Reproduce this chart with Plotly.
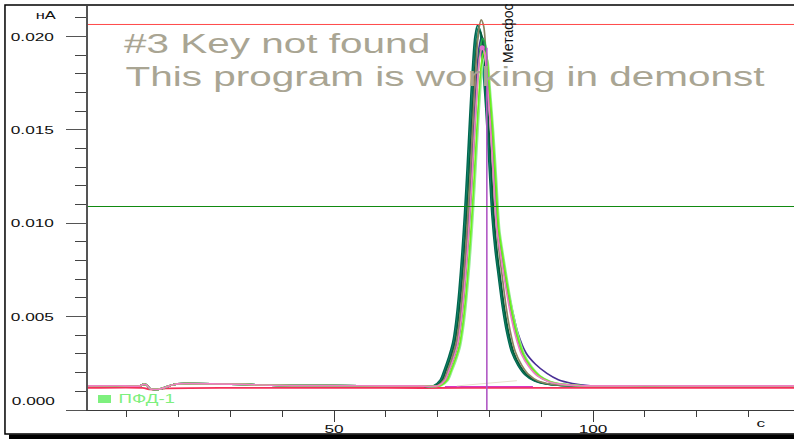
import plotly.graph_objects as go

# ---- data -----------------------------------------------------------------
# Detector signal (нА) versus run time (c); shared baseline before/after peak
BASE_LEFT_T = [2.5, 8.0, 12.5, 13.2, 13.8, 14.5, 15.5, 16.5, 17.5, 18.7, 19.8,
               22.0, 30.0, 36.0, 42.0, 55.0, 66.0]
BASE_LEFT_V = [0.00129, 0.00130, 0.00129, 0.00137, 0.00135, 0.00114, 0.00110,
               0.00113, 0.00122, 0.00134, 0.00140, 0.00141, 0.00139, 0.00134,
               0.00131, 0.00130, 0.00129]
BASE_RIGHT_T = [101.0, 110.0, 125.0, 139.0]
BASE_RIGHT_V = [0.00129, 0.00130, 0.00129, 0.00129]

# Peak region of each injection
RUN1_T = [69.2, 70.5, 71.3, 72.1, 72.9, 73.5, 74.1, 74.7, 75.2, 75.7, 76.2, 76.7, 77.2, 77.7,
          78.2, 78.7, 79.3, 79.9, 80.5, 81.1, 81.7, 82.5, 83.3, 84.3, 85.5, 86.9, 88.7, 91.2, 94.7]
RUN1_V = [0.00130, 0.00161, 0.00217, 0.00281, 0.00360, 0.00470, 0.00632, 0.00844, 0.01056,
          0.01300, 0.01570, 0.01821, 0.02000, 0.02060, 0.02025, 0.01848, 0.01616, 0.01327,
          0.01037, 0.00854, 0.00721, 0.00551, 0.00420, 0.00309, 0.00240, 0.00188, 0.00155,
          0.00138, 0.00130]

RUN2_T = [69.4, 70.7, 71.5, 72.3, 73.1, 73.7, 74.3, 74.9, 75.4, 75.9, 76.4, 76.9, 77.4, 77.9,
          78.4, 78.9, 79.5, 80.1, 80.7, 81.3, 81.9, 82.7, 83.5, 84.5, 85.7, 87.1, 88.9, 91.4, 94.9]
RUN2_V = [0.00130, 0.00161, 0.00216, 0.00280, 0.00358, 0.00468, 0.00629, 0.00840, 0.01052,
          0.01294, 0.01562, 0.01812, 0.01990, 0.02050, 0.02015, 0.01839, 0.01608, 0.01320,
          0.01032, 0.00850, 0.00718, 0.00549, 0.00418, 0.00309, 0.00239, 0.00188, 0.00155,
          0.00138, 0.00130]

RUN3_T = [69.6, 70.9, 71.7, 72.5, 73.3, 73.9, 74.5, 75.1, 75.6, 76.1, 76.6, 77.1, 77.6, 78.1,
          78.6, 79.1, 79.7, 80.3, 80.9, 81.5, 82.1, 82.9, 83.7, 84.7, 85.9, 87.3, 89.1, 91.6, 95.1]
RUN3_V = [0.00130, 0.00160, 0.00216, 0.00278, 0.00356, 0.00464, 0.00624, 0.00833, 0.01042,
          0.01281, 0.01547, 0.01794, 0.01971, 0.02030, 0.01996, 0.01821, 0.01593, 0.01308,
          0.01023, 0.00843, 0.00711, 0.00544, 0.00415, 0.00307, 0.00238, 0.00187, 0.00155,
          0.00138, 0.00130]

RUN4_T = [69.9, 71.2, 72.0, 72.8, 73.6, 74.2, 74.8, 75.4, 75.9, 76.4, 76.9, 77.4, 77.9, 78.4,
          78.9, 79.4, 80.0, 80.6, 81.2, 81.8, 82.4, 83.2, 84.0, 85.0, 86.2, 87.6, 89.4, 91.9, 95.4]
RUN4_V = [0.00130, 0.00161, 0.00218, 0.00283, 0.00363, 0.00475, 0.00640, 0.00855, 0.01071,
          0.01318, 0.01592, 0.01847, 0.02029, 0.02090, 0.02055, 0.01874, 0.01639, 0.01345,
          0.01051, 0.00865, 0.00730, 0.00557, 0.00424, 0.00312, 0.00242, 0.00189, 0.00155,
          0.00138, 0.00130]

RUN5_T = [70.0, 71.3, 72.1, 72.9, 73.7, 74.3, 74.9, 75.5, 76.0, 76.5, 77.0, 77.5, 78.0, 78.5,
          79.0, 79.5, 80.2, 80.9, 81.6, 82.4, 83.2, 84.4, 85.5, 87.1, 88.9, 91.1, 93.3, 96.0, 99.5]
RUN5_V = [0.00130, 0.00160, 0.00214, 0.00276, 0.00353, 0.00459, 0.00616, 0.00822, 0.01028,
          0.01263, 0.01525, 0.01768, 0.01942, 0.02000, 0.01966, 0.01794, 0.01570, 0.01289,
          0.01009, 0.00831, 0.00702, 0.00538, 0.00411, 0.00304, 0.00245, 0.00196, 0.00162,
          0.00142, 0.00130]

RUN6_T = [70.2, 71.5, 72.3, 73.1, 73.9, 74.5, 75.1, 75.7, 76.2, 76.7, 77.2, 77.7, 78.2, 78.7,
          79.2, 79.7, 80.3, 80.9, 81.5, 82.4, 83.1, 84.1, 85.1, 86.3, 87.7, 89.3, 91.3, 94.0, 97.7]
RUN6_V = [0.00130, 0.00160, 0.00214, 0.00275, 0.00351, 0.00457, 0.00614, 0.00818, 0.01023,
          0.01257, 0.01518, 0.01759, 0.01932, 0.01990, 0.01957, 0.01785, 0.01562, 0.01283,
          0.01004, 0.00828, 0.00699, 0.00535, 0.00409, 0.00303, 0.00236, 0.00186, 0.00154,
          0.00137, 0.00130]

RUN7_T = [70.1, 71.4, 72.2, 73.0, 73.8, 74.4, 75.0, 75.6, 76.1, 76.6, 77.1, 77.6, 78.1, 78.6,
          79.1, 79.6, 80.2, 80.8, 81.4, 82.3, 83.0, 84.0, 85.0, 86.2, 87.6, 89.2, 91.2, 93.9, 97.6]
RUN7_V = [0.00130, 0.00159, 0.00211, 0.00271, 0.00345, 0.00449, 0.00601, 0.00800, 0.00999,
          0.01227, 0.01480, 0.01716, 0.01884, 0.01940, 0.01907, 0.01741, 0.01524, 0.01252,
          0.00981, 0.00809, 0.00684, 0.00525, 0.00402, 0.00298, 0.00233, 0.00184, 0.00154,
          0.00137, 0.00130]

RUN8_T = [70.5, 71.8, 72.6, 73.4, 74.2, 74.8, 75.4, 76.0, 76.5, 77.0, 77.5, 78.0, 78.5, 79.0,
          79.5, 80.0, 80.6, 81.2, 81.8, 82.7, 83.4, 84.4, 85.4, 86.6, 88.0, 89.6, 91.6, 94.3, 98.0]
RUN8_V = [0.00130, 0.00159, 0.00211, 0.00270, 0.00343, 0.00445, 0.00595, 0.00792, 0.00989,
          0.01215, 0.01465, 0.01698, 0.01865, 0.01920, 0.01888, 0.01723, 0.01508, 0.01240,
          0.00971, 0.00801, 0.00678, 0.00520, 0.00399, 0.00296, 0.00232, 0.00184, 0.00153,
          0.00137, 0.00130]

RUN9_T = [70.7, 72.0, 72.8, 73.6, 74.4, 75.0, 75.6, 76.2, 76.7, 77.2, 77.7, 78.2, 78.7, 79.2,
          79.7, 80.2, 80.8, 81.4, 82.0, 82.9, 83.6, 84.6, 85.6, 86.8, 88.2, 89.8, 91.8, 94.5, 98.2]
RUN9_V = [0.00130, 0.00158, 0.00210, 0.00268, 0.00341, 0.00442, 0.00590, 0.00785, 0.00980,
          0.01203, 0.01450, 0.01681, 0.01845, 0.01900, 0.01868, 0.01705, 0.01493, 0.01227,
          0.00962, 0.00794, 0.00672, 0.00516, 0.00396, 0.00295, 0.00231, 0.00183, 0.00153,
          0.00137, 0.00130]

# Blank run (no peak)
BLANK_T = [2.5, 13.0, 14.5, 16.0, 17.5, 30.0, 60.0, 75.0, 80.0, 90.0, 139.0]
BLANK_V = [0.00118, 0.00118, 0.00111, 0.00110, 0.00116, 0.00119, 0.00118, 0.00118,
           0.00119, 0.00118, 0.00118]

# Peak integration baselines
INT_BASE_T = [71.4, 88.4]
INT_BASE_V = [0.00125, 0.00125]
INT_BASE2_T = [73.7, 85.3]
INT_BASE2_V = [0.00129, 0.00157]

# Retention-time marker and detected apex
MARK_T = 79.5
APEX_T = [78.6]
APEX_V = [0.0194]

# Threshold lines
LEVEL_HIGH = 0.02065
LEVEL_LOW = 0.0109

PEAK_NAME = "Метафос"
DETECTOR = "ПФД-1"

X_RANGE = [2.5, 138.8]
Y_RANGE = [0.0, 0.02164]
Y_TICKS = [0.0, 0.005, 0.010, 0.015, 0.020]
Y_TICKTEXT = ["", "0.005", "0.010", "0.015", "0.020"]

# ---- figure ---------------------------------------------------------------
FONT = "Liberation Sans, Arial, sans-serif"

runs = [
    (RUN5_T, RUN5_V, "#4a2f96"),
    (RUN1_T, RUN1_V, "#00664f"),
    (RUN2_T, RUN2_V, "#0b7d64"),
    (RUN3_T, RUN3_V, "#075a3a"),
    (RUN4_T, RUN4_V, "#8a8460"),
    (RUN6_T, RUN6_V, "#1fae48"),
    (RUN9_T, RUN9_V, "#96ec96"),
    (RUN8_T, RUN8_V, "#6cf01c"),
    (RUN7_T, RUN7_V, "#f07cc4"),
]

fig = go.Figure()

fig.add_trace(go.Scatter(x=BLANK_T, y=BLANK_V, mode="lines",
                         line=dict(color="#f5305a", width=1.8, shape="spline", smoothing=0.6),
                         hoverinfo="skip"))

for t_peak, v_peak, color in runs:
    fig.add_trace(go.Scatter(
        x=BASE_LEFT_T + t_peak + BASE_RIGHT_T,
        y=BASE_LEFT_V + v_peak + BASE_RIGHT_V,
        mode="lines",
        line=dict(color=color, width=1.7, shape="spline", smoothing=0.8),
        hoverinfo="skip"))

fig.add_trace(go.Scatter(x=INT_BASE_T, y=INT_BASE_V, mode="lines",
                         line=dict(color="#d836c4", width=1.4), hoverinfo="skip"))
fig.add_trace(go.Scatter(x=INT_BASE2_T, y=INT_BASE2_V, mode="lines",
                         line=dict(color="#e6e0cc", width=1), hoverinfo="skip"))
fig.add_trace(go.Scatter(x=[MARK_T, MARK_T], y=[Y_RANGE[0], APEX_V[0]], mode="lines",
                         line=dict(color="#b058c4", width=1.6), hoverinfo="skip"))
fig.add_trace(go.Scatter(x=APEX_T, y=APEX_V, mode="markers",
                         marker=dict(color="#e070d0", size=5), hoverinfo="skip"))

# threshold lines across the whole plot
fig.add_shape(type="line", xref="paper", x0=0, x1=1, yref="y", y0=LEVEL_HIGH, y1=LEVEL_HIGH,
              line=dict(color="#ff4848", width=1))
fig.add_shape(type="line", xref="paper", x0=0, x1=1, yref="y", y0=LEVEL_LOW, y1=LEVEL_LOW,
              line=dict(color="#118a11", width=1))

# window frame with drop shadow
fig.add_shape(type="rect", xref="paper", yref="paper", x0=-0.1176, x1=1.05, y0=-0.0594, y1=1.0025,
              line=dict(color="black", width=1.5), fillcolor="rgba(0,0,0,0)", layer="above")
fig.add_shape(type="rect", xref="paper", yref="paper", x0=-0.1119, x1=1.05, y0=-0.09, y1=-0.0605,
              line=dict(width=0), fillcolor="black", layer="above")

# detector legend
fig.add_shape(type="rect", xref="paper", yref="paper", x0=0.0142, x1=0.0326, y0=0.0173, y1=0.0371,
              line=dict(width=0), fillcolor="#7ef07e")

ann = [
    dict(text="#3 Key not found", x=0.2684, y=0.9067, size=27, color="#a9a593"),
    dict(text="This program is working in demonst", x=0.5064, y=0.8252, size=27, color="#a9a593"),
    dict(text=DETECTOR, x=0.0829, y=0.028, size=12.5, color="#7ef07e"),
    dict(text="нА", x=-0.0588, y=0.9777, size=11, color="#111111"),
    dict(text="c", x=0.9526, y=-0.0334, size=11.5, color="#111111"),
    dict(text="0.000", x=-0.0779, y=0.0235, size=11.5, color="#111111"),
]
for a in ann:
    fig.add_annotation(text=a["text"], x=a["x"], y=a["y"], xref="paper", yref="paper",
                       xanchor="center", yanchor="middle", showarrow=False,
                       font=dict(family=FONT, size=a["size"], color=a["color"]))

fig.add_annotation(text=PEAK_NAME, x=0.5949, y=0.854, xref="paper", yref="paper",
                   xanchor="center", yanchor="bottom", textangle=-90, showarrow=False,
                   font=dict(family=FONT, size=14, color="#111111"))

fig.update_layout(
    width=794, height=439,
    margin=dict(l=88, r=0, t=6, b=29),
    paper_bgcolor="white", plot_bgcolor="white",
    showlegend=False,
    font=dict(family=FONT, size=11.5, color="#111111"),
    xaxis=dict(range=X_RANGE, showgrid=False, zeroline=False,
               showline=True, linecolor="#3a3a3a", linewidth=1.2,
               tick0=0, dtick=50, ticks="outside", ticklen=11, tickcolor="#3a3a3a",
               tickwidth=1.2, ticklabelstandoff=-3,
               minor=dict(dtick=10, ticks="outside", ticklen=6, tickcolor="#3a3a3a", tickwidth=1.2)),
    yaxis=dict(range=Y_RANGE, showgrid=False, zeroline=False,
               showline=True, linecolor="#555555", linewidth=1.6,
               tickmode="array", tickvals=Y_TICKS, ticktext=Y_TICKTEXT,
               ticks="outside", ticklen=20, tickcolor="#555555", tickwidth=1.4,
               ticklabelstandoff=10,
               minor=dict(dtick=0.001, ticks="outside", ticklen=11, tickcolor="#444444", tickwidth=1.2)),
)

# widen the glyphs of every horizontal label (rotated labels stay as they are)
STRETCH_JS = """
var gd = document.getElementById('{plot_id}');
gd.querySelectorAll('.main-svg text').forEach(function (t) {
  var node = t;
  while (node && node.getAttribute) {
    var tf = node.getAttribute('transform') || '';
    var m = /rotate\\(\\s*(-?[0-9.]+)/.exec(tf);
    if (m && Math.abs(parseFloat(m[1])) > 0.1) return;
    node = node.parentNode;
  }
  var x = parseFloat(t.getAttribute('x')) || 0;
  var tr = t.getAttribute('transform') || '';
  t.setAttribute('transform', tr + ' translate(' + x + ' 0) scale(1.5 1) translate(' + (-x) + ' 0)');
});
"""

fig.write_html("out.html", config={"displayModeBar": False}, post_script=STRETCH_JS)
